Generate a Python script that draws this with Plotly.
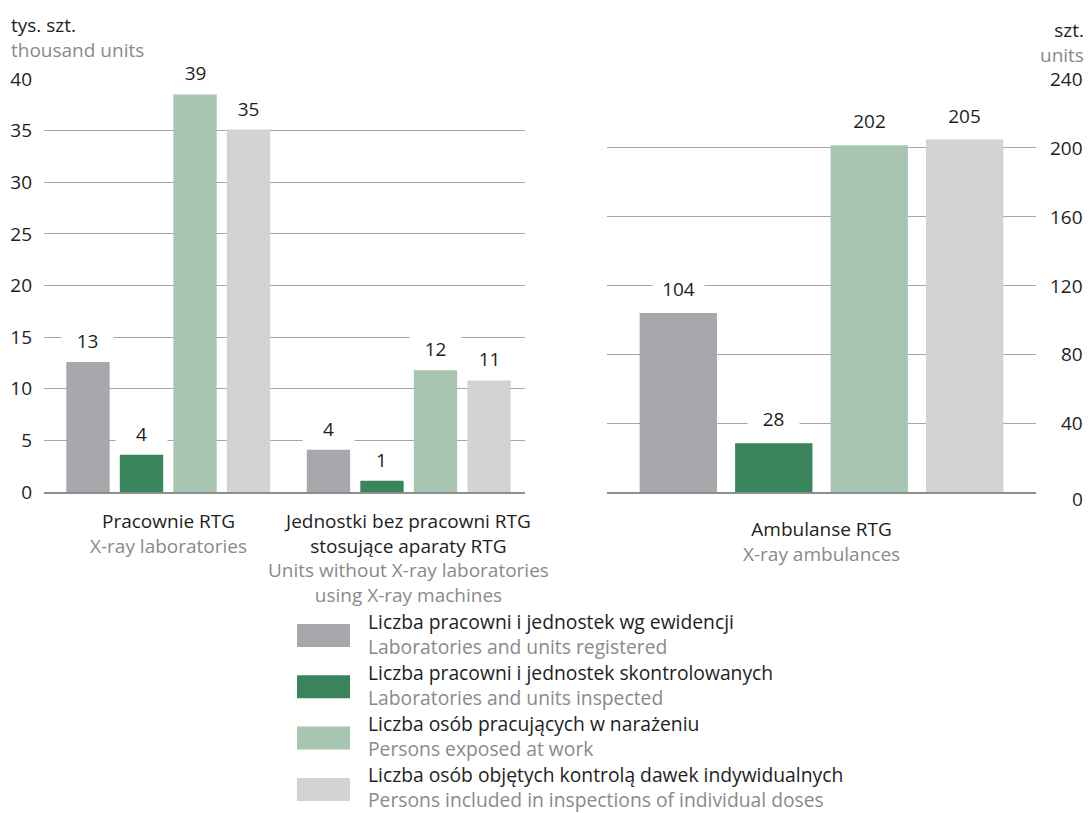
import plotly.graph_objects as go

# ---------------- data ----------------
categories_left = ["Pracownie RTG", "Jednostki bez pracowni RTG"]
category_right = ["Ambulanse RTG"]
# category label lines: (Polish lines, English lines)
cat_lines_left = [
    (["Pracownie RTG"], ["X-ray laboratories"]),
    (["Jednostki bez pracowni RTG", "stosujące aparaty RTG"],
     ["Units without X-ray laboratories", "using X-ray machines"]),
]
cat_lines_right = [(["Ambulanse RTG"], ["X-ray ambulances"])]

series_pl = [
    "Liczba pracowni i jednostek wg ewidencji",
    "Liczba pracowni i jednostek skontrolowanych",
    "Liczba osób pracujących w narażeniu",
    "Liczba osób objętych kontrolą dawek indywidualnych",
]
series_en = [
    "Laboratories and units registered",
    "Laboratories and units inspected",
    "Persons exposed at work",
    "Persons included in inspections of individual doses",
]
colors = ["#a7a8ab", "#3a845b", "#a7c5b0", "#d2d3d5"]

# thousand units (left panel), per series: [Pracownie, Jednostki]
left_values = [
    [12.6, 4.1],
    [3.6, 1.1],
    [38.5, 11.8],
    [35.1, 10.8],
]
left_labels = [
    ["13", "4"],
    ["4", "1"],
    ["39", "12"],
    ["35", "11"],
]
# units (right panel)
right_values = [104, 28.4, 201.5, 204.8]
right_labels = ["104", "28", "202", "205"]

left_ticks = [0, 5, 10, 15, 20, 25, 30, 35, 40]
right_ticks = [0, 40, 80, 120, 160, 200, 240]

# ---------------- layout geometry ----------------
W, H = 1089, 813
FONT = "Open Sans"
FS = 19
TXT = "#1e1e1e"
GRAY_TXT = "#8a8a8a"
GRID = "#a6a6a6"
BARGAP = 0.11
BARGROUPGAP = 0.19

xl = [44 / W, 525 / W]
xr = [607 / W, 1036 / W]
yd = [1 - 492 / H, 1 - 79 / H]


def py(pix):
    """pixel row -> paper y"""
    return 1 - pix / H


def two_tone(pl_lines, en_lines):
    parts = list(pl_lines) + [f"<span style='color:{GRAY_TXT}'>{t}</span>" for t in en_lines]
    return "<br>".join(parts)


fig = go.Figure()

for i in range(4):
    fig.add_trace(go.Bar(
        x=categories_left, y=left_values[i], marker_color=colors[i],
        marker_line_width=0, xaxis="x", yaxis="y", name=series_pl[i],
        showlegend=False, hoverinfo="y"))
for i in range(4):
    fig.add_trace(go.Bar(
        x=category_right, y=[right_values[i]], marker_color=colors[i],
        marker_line_width=0, xaxis="x2", yaxis="y2", name=series_pl[i],
        showlegend=False, hoverinfo="y"))

annotations = []
# value labels with white background (interrupting gridlines)
slot_left = (1 - BARGAP) * (xl[1] - xl[0]) * W / len(categories_left) / 4
slot_right = (1 - BARGAP) * (xr[1] - xr[0]) * W / len(category_right) / 4
for i in range(4):
    for j, cat in enumerate(categories_left):
        annotations.append(dict(
            x=cat, y=left_values[i][j], xref="x", yref="y",
            text=left_labels[i][j], showarrow=False, yanchor="bottom",
            xshift=(i - 1.5) * slot_left, yshift=6, bgcolor="white",
            width=49, borderpad=1,
            font=dict(family=FONT, size=FS, color=TXT)))
    annotations.append(dict(
        x=category_right[0], y=right_values[i], xref="x2", yref="y2",
        text=right_labels[i], showarrow=False, yanchor="bottom",
        xshift=(i - 1.5) * slot_right, yshift=9, bgcolor="white",
        width=49, borderpad=1,
        font=dict(family=FONT, size=FS, color=TXT)))

# right axis tick labels (right-aligned)
for t in right_ticks:
    annotations.append(dict(
        x=1085 / W, y=t, xref="paper", yref="y2", text=str(t),
        showarrow=False, xanchor="right", yanchor="middle",
        yshift=-7 if t == 0 else 0,
        font=dict(family=FONT, size=FS, color=TXT)))

# category labels (multi-line, below each group)
for j, cat in enumerate(categories_left):
    pl, en = cat_lines_left[j]
    annotations.append(dict(
        x=cat, xref="x", y=py(506), yref="paper", yanchor="top", showarrow=False,
        text=two_tone(pl, en), font=dict(family=FONT, size=FS, color=TXT)))
pl, en = cat_lines_right[0]
annotations.append(dict(
    x=category_right[0], xref="x2", y=py(514), yref="paper", yanchor="top",
    showarrow=False, text=two_tone(pl, en),
    font=dict(family=FONT, size=FS, color=TXT)))

# axis unit titles
annotations += [
    dict(x=9 / W, y=py(37), xref="paper", yref="paper", xanchor="left",
         yanchor="middle", showarrow=False, align="left",
         text=two_tone(["tys. szt."], ["thousand units"]),
         font=dict(family=FONT, size=FS, color=TXT)),
    dict(x=1086 / W, y=py(43), xref="paper", yref="paper", xanchor="right",
         yanchor="middle", showarrow=False, align="right",
         text=two_tone(["szt."], ["units"]),
         font=dict(family=FONT, size=FS, color=TXT)),
]

# custom legend
shapes = []
for i in range(4):
    top = 624 + i * 51.3
    shapes.append(dict(type="rect", xref="paper", yref="paper",
                       x0=297 / W, x1=350 / W, y0=py(top + 23), y1=py(top),
                       fillcolor=colors[i], line=dict(width=0)))
    annotations.append(dict(
        x=366 / W, y=py(top + 9.5), xref="paper", yref="paper",
        xanchor="left", yanchor="middle", align="left", showarrow=False,
        text=two_tone([series_pl[i]], [series_en[i]]),
        font=dict(family=FONT, size=19.3, color=TXT)))

shift = 4 / ((xl[1] - xl[0]) * W / 2)  # small category offset

fig.update_layout(
    width=W, height=H,
    margin=dict(l=0, r=0, t=0, b=0),
    paper_bgcolor="white", plot_bgcolor="white",
    barmode="group", bargap=BARGAP, bargroupgap=BARGROUPGAP,
    font=dict(family=FONT, size=FS, color=TXT),
    showlegend=False,
    xaxis=dict(domain=xl, anchor="y", range=[-0.5 - shift, 1.5 - shift],
               showticklabels=False, ticks="", showline=True, linecolor="#8f8f8f",
               linewidth=2, layer="above traces", showgrid=False, zeroline=False,
               fixedrange=True, automargin=False),
    yaxis=dict(domain=yd, anchor="x", range=[0, 40], tickmode="array",
               tickvals=left_ticks, showgrid=True, gridcolor=GRID, gridwidth=1.3,
               zeroline=False, ticks="", ticklabelstandoff=11, fixedrange=True,
               automargin=False, tickfont=dict(family=FONT, size=FS, color=TXT)),
    xaxis2=dict(domain=xr, anchor="y2", showticklabels=False, ticks="",
                showline=True, linecolor="#8f8f8f", linewidth=2,
                layer="above traces", showgrid=False, zeroline=False,
                fixedrange=True, automargin=False),
    yaxis2=dict(domain=yd, anchor="x2", range=[0, 240], tickmode="array",
                tickvals=right_ticks, showgrid=True, gridcolor=GRID, gridwidth=1.3,
                zeroline=False, showticklabels=False, ticks="", fixedrange=True,
                automargin=False),
    annotations=annotations,
    shapes=shapes,
)

fig.write_html(
    "out.html",
    config={"displayModeBar": False},
    post_script="document.body.style.margin='0';document.body.style.padding='0';",
)
